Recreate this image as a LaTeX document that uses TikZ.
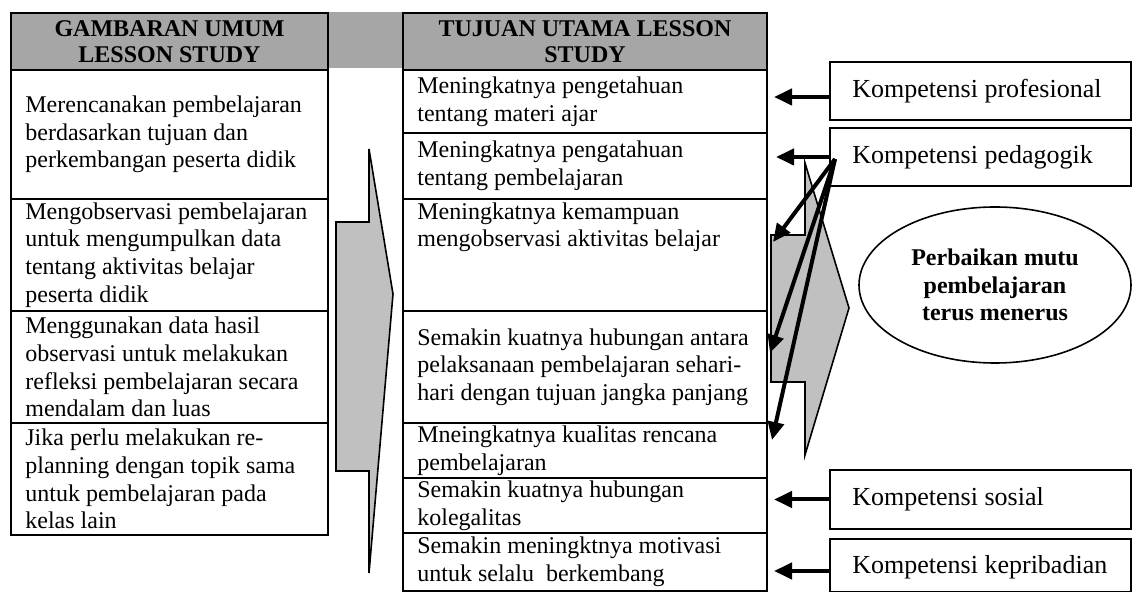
\documentclass[tikz,border=0pt]{standalone}
\usepackage{fontspec}
\setmainfont{Liberation Serif}
\usetikzlibrary{arrows.meta,shapes.geometric}
\definecolor{headgray}{RGB}{166,166,166}
\definecolor{arrowgray}{RGB}{192,192,192}
\begin{document}
\begin{tikzpicture}[x=0.5pt, y=-0.5pt,
    cell/.style={draw, line width=1pt, anchor=north west, inner sep=0pt},
    lcell/.style={cell, minimum width=158.5pt},
    rcell/.style={cell, minimum width=182pt},
    head/.style={fill=headgray, align=center, font=\bfseries\fontsize{12}{13}\selectfont},
    txt/.style={anchor=west, align=left, inner sep=0pt, font=\fontsize{12}{13.8}\selectfont},
    kbox/.style={draw, line width=1pt, anchor=north west, minimum width=150.5pt, inner sep=0pt},
    ktxt/.style={anchor=west, inner sep=0pt, font=\fontsize{13}{15}\selectfont},
    bigarr/.style={line width=2pt, -{Triangle[length=9pt,width=8pt]}},
    fatarr/.style={draw, line width=0.8pt, fill=arrowgray}]
    \useasboundingbox (0,0) rectangle (1136,592);
    \fill[headgray] (327,12) rectangle (402,68);
    % left table
    \node[lcell, head, minimum height=28.5pt] (lhead) at (10,12) {GAMBARAN UMUM\\LESSON STUDY};
    \node[lcell, minimum height=64.5pt] (l1) at (10,69) {};
    \node[lcell, minimum height=56pt] (l2) at (10,198) {};
    \node[lcell, minimum height=56pt] (l3) at (10,310) {};
    \node[lcell, minimum height=56pt] (l4) at (10,422) {};
    \node[txt] (l1t) at ([xshift=7.5pt]l1.west) {Merencanakan pembelajaran\\berdasarkan tujuan dan\\perkembangan peserta didik};
    \node[txt] (l2t) at ([xshift=7.5pt]l2.west) {Mengobservasi pembelajaran\\untuk mengumpulkan data\\tentang aktivitas belajar\\peserta didik};
    \node[txt] (l3t) at ([xshift=7.5pt]l3.west) {Menggunakan data hasil\\observasi untuk melakukan\\refleksi pembelajaran secara\\mendalam dan luas};
    \node[txt] (l4t) at ([xshift=7.5pt]l4.west) {Jika perlu melakukan re-\\planning dengan topik sama\\untuk pembelajaran pada\\kelas lain};
    % right table
    \node[rcell, head, minimum height=28.5pt] (rhead) at (402,12) {TUJUAN UTAMA LESSON\\STUDY};
    \node[rcell, minimum height=31.5pt] (r1) at (402,69) {};
    \node[rcell, minimum height=33pt] (r2) at (402,132) {};
    \node[rcell, minimum height=56pt] (r3) at (402,198) {};
    \node[rcell, minimum height=56pt] (r4) at (402,310) {};
    \node[rcell, minimum height=27.5pt] (r5) at (402,422) {};
    \node[rcell, minimum height=27.5pt] (r6) at (402,477) {};
    \node[rcell, minimum height=29pt] (r7) at (402,532) {};
    \node[txt] (r1t) at ([xshift=7.5pt]r1.west) {Meningkatnya pengetahuan\\tentang materi ajar};
    \node[txt] (r2t) at ([xshift=7.5pt]r2.west) {Meningkatnya pengatahuan\\tentang pembelajaran};
    \node[txt, anchor=north west] (r3t) at ([xshift=7.5pt,yshift=-2pt]r3.north west) {Meningkatnya kemampuan\\mengobservasi aktivitas belajar};
    \node[txt] (r4t) at ([xshift=7.5pt]r4.west) {Semakin kuatnya hubungan antara\\pelaksanaan pembelajaran sehari-\\hari dengan tujuan jangka panjang};
    \node[txt] (r5t) at ([xshift=7.5pt]r5.west) {Mneingkatnya kualitas rencana\\pembelajaran};
    \node[txt] (r6t) at ([xshift=7.5pt]r6.west) {Semakin kuatnya hubungan\\kolegalitas};
    \node[txt] (r7t) at ([xshift=7.5pt]r7.west) {Semakin meningktnya motivasi\\untuk selalu\ \ berkembang};
    % big gray arrows
    \draw[fatarr] (369,149) -- (393,294) -- (369,573) -- (369,471) -- (336,471) -- (336,222) -- (369,222) -- cycle;
    \draw[fatarr] (805,163) -- (849,308) -- (805,455) -- (805,382) -- (771,382) -- (771,235) -- (805,235) -- cycle;
    % kompetensi
    \node[kbox, minimum height=29pt] (kprof) at (829,61) {};
    \node[kbox, minimum height=29pt] (kped) at (829,127) {};
    \node[kbox, minimum height=29.5pt] (ksos) at (829,469) {};
    \node[kbox, minimum height=26.5pt] (kpri) at (829,538) {};
    \node[ktxt] (kproft) at ([xshift=11.5pt]kprof.west) {Kompetensi profesional};
    \node[ktxt] (kpedt) at ([xshift=11.5pt]kped.west) {Kompetensi pedagogik};
    \node[ktxt] (ksost) at ([xshift=11.5pt]ksos.west) {Kompetensi sosial};
    \node[ktxt] (kprit) at ([xshift=11.5pt,yshift=-1pt]kpri.west) {Kompetensi kepribadian};
    \node[ellipse, draw, line width=0.8pt, minimum width=136pt, minimum height=78pt, align=center,
          font=\bfseries\fontsize{12}{13.8}\selectfont] (mutu) at (995,285) {Perbaikan mutu\\pembelajaran\\terus menerus};
    % arrows
    \coordinate (pedsrc) at ([xshift=3pt,yshift=-1pt]kped.west);
    \coordinate (t1) at (773,242);
    \coordinate (t2) at (770,353);
    \coordinate (t3) at (772,440);
    \draw[bigarr, shorten >=3pt] ([yshift=-3pt]kprof.west) -- ([yshift=-3pt]kprof.west -| r1.east);
    \draw[bigarr, shorten >=4pt] (kped.west) -- (kped.west -| r2.east);
    \draw[bigarr] (pedsrc) -- (t1);
    \draw[bigarr] (pedsrc) -- (t2);
    \draw[bigarr] (pedsrc) -- (t3);
    \draw[bigarr, shorten >=3pt] (ksos.west) -- (ksos.west -| r6.east);
    \draw[bigarr, shorten >=3pt] ([yshift=-2.75pt]kpri.west) -- ([yshift=-2.75pt]kpri.west -| r7.east);
\end{tikzpicture}
\end{document}
